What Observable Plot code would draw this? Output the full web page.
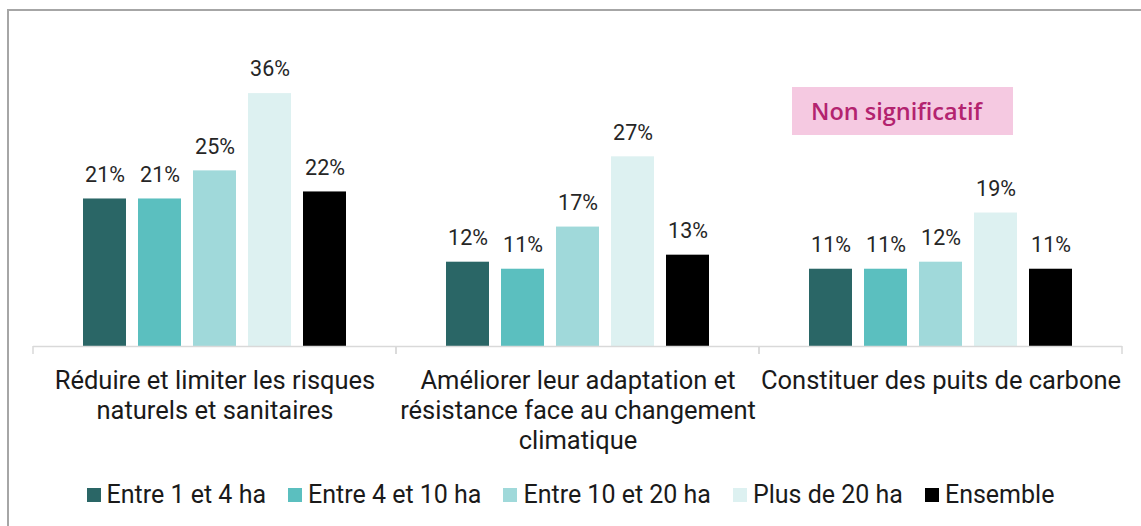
<!DOCTYPE html>
<html>
<head>
<meta charset="utf-8">
<script src="https://cdn.jsdelivr.net/npm/d3@7"></script>
<script src="https://cdn.jsdelivr.net/npm/@observablehq/plot@0.6"></script>
<style>
html, body { margin: 0; padding: 0; background: #fff; width: 1141px; height: 526px; overflow: hidden; }
#frame { position: absolute; left: 7px; top: 9px; width: 1160px; height: 560px; border: 2px solid #a6a6a6; box-sizing: border-box; pointer-events: none; }
#chart { position: absolute; left: 0; top: 0; }
#note { position: absolute; left: 792px; top: 87px; width: 221px; height: 48px; background: #f5c9e1;
  color: #b3236f; font-family: "Open Sans", sans-serif; font-weight: 600; font-size: 23.5px; line-height: 48px;
  box-sizing: border-box; padding-left: 19px; white-space: nowrap; }
#legend { position: absolute; left: 0; top: 480px; width: 1141px; display: flex; justify-content: center;
  font-family: Roboto, sans-serif; font-size: 25px; color: #1a1a1a; }
#legend .item { display: flex; align-items: center; margin: 0 11px; }
#legend .sw { width: 14px; height: 14px; margin-right: 6px; }
</style>
</head>
<body>
<div id="chart"></div>
<div id="note">Non significatif</div>
<div id="legend"></div>
<div id="frame"></div>
<script>
// Categories (x groups)
const categories = [
  "Réduire et limiter les risques\nnaturels et sanitaires",
  "Améliorer leur adaptation et\nrésistance face au changement\nclimatique",
  "Constituer des puits de carbone"
];
// Series
const series = ["Entre 1 et 4 ha", "Entre 4 et 10 ha", "Entre 10 et 20 ha", "Plus de 20 ha", "Ensemble"];
const colors = ["#2a6666", "#5bbfbf", "#a0d9da", "#ddf1f1", "#000000"];
// Values (%) per series, in category order
const entre1et4 = [21, 12, 11];
const entre4et10 = [21, 11, 11];
const entre10et20 = [25, 17, 12];
const plusDe20 = [36, 27, 19];
const ensemble = [22, 13, 11];

const seriesValues = [entre1et4, entre4et10, entre10et20, plusDe20, ensemble];
const data = [];
categories.forEach((c, i) => {
  series.forEach((s, j) => data.push({category: c, series: s, value: seriesValues[j][i]}));
});

const boundaryTicks = (index, scales, values, dimensions) => {
  const g = d3.create("svg:g").attr("stroke", "#d9d9d9").attr("stroke-width", 1.5);
  const y0 = scales.y(0);
  [dimensions.marginLeft, dimensions.width - dimensions.marginRight].forEach(x => {
    g.append("line").attr("x1", x).attr("x2", x).attr("y1", y0).attr("y2", y0 + 8);
  });
  return g.node();
};

const chart = Plot.plot({
  width: 1141,
  height: 465,
  marginLeft: 32,
  marginRight: 19,
  marginTop: 65,
  marginBottom: 119,
  fx: {domain: categories, padding: 0, label: null},
  x: {domain: series, paddingInner: 0.214, paddingOuter: 0.85, axis: null},
  y: {domain: [0, 40], axis: null},
  color: {domain: series, range: colors},
  style: {fontFamily: "Roboto, sans-serif", background: "transparent", overflow: "visible"},
  marks: [
    Plot.barY(data, {fx: "category", x: "series", y: "value", fill: "series"}),
    Plot.text(data, {fx: "category", x: "series", y: "value", text: d => d.value + "%",
      dy: -24, fontSize: 21.5, fill: "#262626"}),
    Plot.ruleY([0], {stroke: "#d9d9d9", strokeWidth: 1.5}),
    boundaryTicks,
    Plot.axisFx({anchor: "bottom", tickSize: 0, tickPadding: 21, fontSize: 25.5, lineHeight: 1.18,
      fill: "#1a1a1a", label: null})
  ]
});
document.getElementById("chart").appendChild(chart);

const legend = d3.select("#legend");
series.forEach((s, j) => {
  const it = legend.append("div").attr("class", "item");
  it.append("div").attr("class", "sw").style("background", colors[j]);
  it.append("span").text(s);
});
</script>
</body>
</html>
